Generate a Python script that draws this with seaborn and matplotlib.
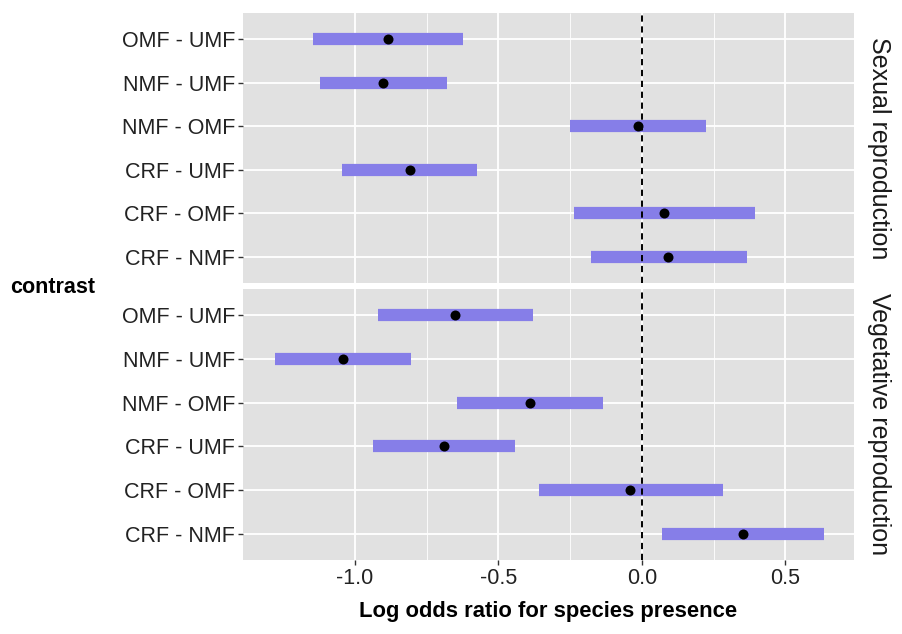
import matplotlib
matplotlib.use("Agg")
import matplotlib.pyplot as plt
import seaborn as sns
import pandas as pd
from matplotlib.ticker import FixedLocator

# ---- data ----
contrasts = ["OMF - UMF", "NMF - UMF", "NMF - OMF", "CRF - UMF", "CRF - OMF", "CRF - NMF"]
panels = ["Sexual reproduction", "Vegetative reproduction"]

sex_est = [-0.887, -0.904, -0.012, -0.809, 0.078, 0.093]
sex_low = [-1.148, -1.124, -0.249, -1.044, -0.235, -0.179]
sex_high = [-0.622, -0.681, 0.225, -0.576, 0.394, 0.368]

veg_est = [-0.651, -1.041, -0.390, -0.690, -0.040, 0.352]
veg_low = [-0.920, -1.279, -0.644, -0.937, -0.359, 0.069]
veg_high = [-0.379, -0.805, -0.137, -0.441, 0.283, 0.637]

xticks = [-1.0, -0.5, 0.0, 0.5]
xtick_labels = ["-1.0", "-0.5", "0.0", "0.5"]
xminor = [-0.75, -0.25, 0.25]

rows = []
for panel, est, lo, hi in [(panels[0], sex_est, sex_low, sex_high),
                           (panels[1], veg_est, veg_low, veg_high)]:
    for c, e, l, h in zip(contrasts, est, lo, hi):
        for v in (l, e, h):
            rows.append({"panel": panel, "contrast": c, "value": v})
df = pd.DataFrame(rows)

# ---- style ----
sns.set_theme(style="darkgrid")
plt.rcParams["font.family"] = ["Liberation Sans", "DejaVu Sans"]
plt.rcParams["lines.solid_capstyle"] = "butt"

W, H = 902, 634
fig = plt.figure(figsize=(W / 100, H / 100), dpi=100)
fig.patch.set_facecolor("white")

left, right = 243 / W, 854 / W
ax_top = fig.add_axes([left, 1 - 283 / H, right - left, 270 / H])
ax_bot = fig.add_axes([left, 1 - 560 / H, right - left, 271 / H])

bar_color = "#867ee8"
bg = "#e1e1e1"

for ax, panel in [(ax_top, panels[0]), (ax_bot, panels[1])]:
    sub = df[df["panel"] == panel]
    ax.set_facecolor(bg)
    sns.pointplot(data=sub, x="value", y="contrast", order=contrasts,
                  estimator="median", errorbar=("pi", 100), capsize=0,
                  linestyle="none", marker="o", color="black",
                  markersize=7.2, markeredgewidth=0, zorder=5,
                  err_kws={"color": bar_color, "linewidth": 8.8,
                           "solid_capstyle": "butt", "zorder": 3},
                  ax=ax)
    ax.axvline(0, color="black", linestyle=(0, (3.2, 2.4)), linewidth=1.4, zorder=4)
    ax.set_xlim(-1.391, 0.740)
    ax.set_ylim(5.6, -0.6)
    ax.xaxis.set_major_locator(FixedLocator(xticks))
    ax.xaxis.set_minor_locator(FixedLocator(xminor))
    ax.grid(which="major", color="white", linewidth=1.3)
    ax.grid(which="minor", axis="x", color="white", linewidth=0.6)
    ax.set_axisbelow(True)
    for s in ax.spines.values():
        s.set_visible(False)
    ax.set_xlabel("")
    ax.set_ylabel("")
    ax.tick_params(axis="both", which="major", length=3.5, width=1, color="#333333",
                   labelsize=15.5, labelcolor="#222222", pad=2, left=True, bottom=True)
    ax.tick_params(axis="x", which="minor", length=0)
    ax.text(1.022, 0.5, panel, transform=ax.transAxes, rotation=270,
            ha="left", va="center", fontsize=18, color="#1a1a1a")

ax_top.tick_params(axis="x", labelbottom=False, length=0)
ax_bot.set_xticks(xticks)
ax_bot.set_xticklabels(xtick_labels)

fig.text(10 / W, 1 - 287 / H, "contrast", fontsize=15.5, fontweight="bold",
         ha="left", va="center", color="black")
fig.text((243 + 854) / 2 / W, 1 - 612 / H, "Log odds ratio for species presence",
         fontsize=15.8, fontweight="bold", ha="center", va="center", color="black")

fig.savefig("out.png", dpi=100, facecolor="white")
